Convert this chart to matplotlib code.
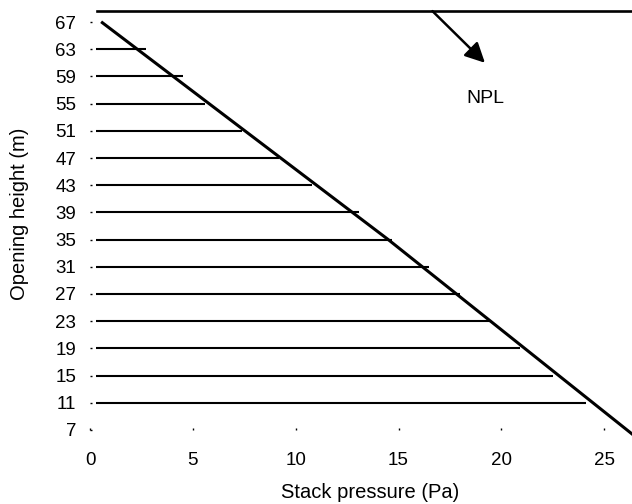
import matplotlib
matplotlib.use("Agg")
import matplotlib.pyplot as plt

# Opening heights (m) and the stack pressure (Pa) reached by each horizontal line
heights = [63, 59, 55, 51, 47, 43, 39, 35, 31, 27, 23, 19, 15, 11]
pressure_ends = [2.7, 4.5, 5.6, 7.4, 9.2, 10.8, 13.1, 14.7, 16.5, 18.0, 19.5, 20.9, 22.5, 24.1]
line_start = 0.3

# Stack pressure profile (diagonal)
profile_pressure = [0.6, 14.5, 26.4]
profile_height = [66.9, 35.0, 6.3]

# Neutral pressure level
npl_height = 68.6
npl_span = [0.35, 26.4]

y_ticks = [7, 11, 15, 19, 23, 27, 31, 35, 39, 43, 47, 51, 55, 59, 63, 67]
x_ticks = [0, 5, 10, 15, 20, 25]

plt.rcParams["font.family"] = ["Liberation Sans", "DejaVu Sans"]

fig = plt.figure(figsize=(6.32, 5.04), dpi=100)
ax = fig.add_axes([90 / 632, (504 - 430) / 504, 1 - 90 / 632, (430 - 8.4) / 504])
ax.set_xlim(0, 26.35)
ax.set_ylim(7, 69)

for h, pe in zip(heights, pressure_ends):
    ax.plot([line_start, pe], [h, h], color="black", lw=1.5, solid_capstyle="butt")

ax.plot(profile_pressure, profile_height, color="black", lw=2.2, clip_on=False)
ax.plot(npl_span, [npl_height, npl_height], color="black", lw=1.9, clip_on=False)

ax.annotate("", xy=(19.2, 61.0), xytext=(16.65, npl_height),
            arrowprops=dict(arrowstyle="-|>", mutation_scale=30, lw=1.8,
                            color="black", shrinkA=0, shrinkB=0))
ax.text(19.2, 55.8, "NPL", fontsize=14, ha="center", va="center")

for s in ax.spines.values():
    s.set_visible(False)

ax.set_xticks(x_ticks)
ax.set_yticks(y_ticks)
ax.tick_params(axis="x", length=1.5, width=1, direction="in", pad=16, labelsize=13.5)
ax.tick_params(axis="y", length=1.5, width=1, direction="in", pad=10, labelsize=13.5)

fig.text(370 / 632, 12 / 504, "Stack pressure (Pa)", fontsize=14.5, ha="center", va="center")
fig.text(20 / 632, 1 - 214 / 504, "Opening height (m)", fontsize=14.5, ha="center",
         va="center", rotation=90)

fig.savefig("out.png", dpi=100)
